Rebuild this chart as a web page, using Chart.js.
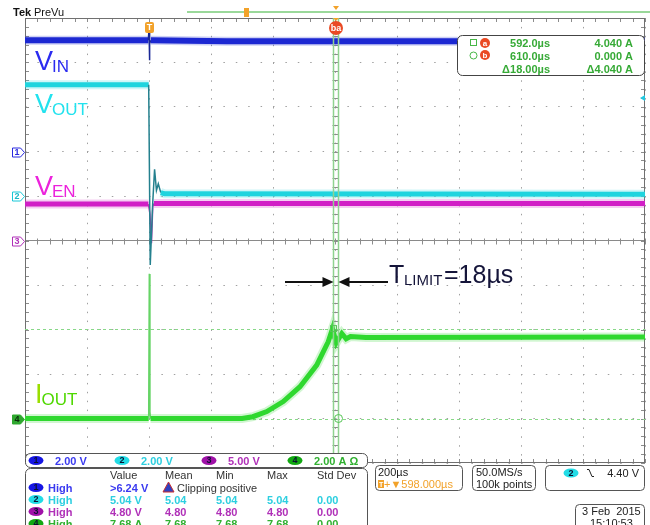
<!DOCTYPE html>
<html lang="en">
<head>
<meta charset="UTF-8">
<title>Current limit turn-on</title>
<script src="https://cdn.jsdelivr.net/npm/chart.js"></script>
<style>
  html, body { margin: 0; padding: 0; background: #fff; }
  canvas { display: block; }
</style>
</head>
<body>
<canvas id="scope" width="650" height="525"></canvas>
<script>
// horizontal: 200 us/div, trigger two divisions from the left edge
const timeMin = -400;
const timeMax = 1600;
const timePerDiv = 200;

// per channel: units per division, ground position (divisions from centre)
const channelScale = [2, 2, 5, 2];
const channelOffset = [2, 1, 0, -4];
const channelUnit = ['V', 'V', 'V', 'A'];
const channelColor = ['#1c28d2', '#1fd4de', '#d11fc6', '#2fd82f'];
const edgeColor = ['#1a2896', '#24808e', '#b23ab2', '#66d466'];

// CH1 VIN (V)
const vinTime = [-400, -2, 0, 1, 3, 6, 250, 1600];
const vinValue = [5.0, 5.0, 5.55, 4.1, 4.85, 5.0, 4.96, 4.96];

// CH2 VOUT (V)
const voutTime = [-400, -1, 4, 12, 18, 24, 30, 38, 50, 1600];
const voutValue = [5.0, 5.0, -3.1, -0.3, 1.2, 0.25, 0.55, 0.15, 0.1, 0.08];

// CH3 VEN (V)
const venTime = [-400, -2, 3, 8, 12, 16, 1600];
const venValue = [4.1, 4.1, 3.0, -0.3, 3.8, 4.15, 4.15];

// CH4 IOUT (A)
const ioutTime = [-400, -1, 1, 3, 5, 300, 335, 380, 433, 487, 541, 578, 592, 604, 622, 636, 650, 700, 1600];
const ioutValue = [0, 0, 6.5, 0.3, 0, 0, 0.08, 0.31, 0.76, 1.43, 2.40, 3.45, 4.04, 3.4, 3.82, 3.58, 3.68, 3.64, 3.66];

// cursors (time in us, level on CH4 in A)
const cursorTimes = [592.0, 610.0];
const cursorLevels = [4.040, 0.000];
const cursorNames = ['a', 'b'];

// trigger: CH2 falling edge
const triggerChannel = 1;
const triggerLevel = 4.40;
const horizontalDelay = 598.000;

// measurement table
const measureHeader = ['Value', 'Mean', 'Min', 'Max', 'Std Dev'];
const measureRows = [
  ['>6.24 V'],
  ['5.04 V', '5.04', '5.04', '5.04', '0.00'],
  ['4.80 V', '4.80', '4.80', '4.80', '0.00'],
  ['7.68 A', '7.68', '7.68', '7.68', '0.00']
];

const toDiv = (ch, v) => v / channelScale[ch] + channelOffset[ch];
const isEdge = c => Math.abs(c.p1.x - c.p0.x) < 3;

function trace(ch, times, values) {
  return {
    data: times.map((t, i) => ({ x: t, y: toDiv(ch, values[i]) })),
    borderColor: channelColor[ch],
    borderWidth: 5,
    pointRadius: 0,
    tension: 0,
    // fast edges stay thin, the flat noisy parts are a wide band
    segment: {
      borderWidth: c => isEdge(c) ? 1.5 : (ch === 0 ? 6 : 5),
      borderColor: c => isEdge(c) ? edgeColor[ch] : channelColor[ch]
    }
  };
}

// faint wider band behind each trace for the noise fringe
function fringe(ch, times, values) {
  return {
    data: times.map((t, i) => ({ x: t, y: toDiv(ch, values[i]) })),
    borderColor: channelColor[ch] + '38',
    borderWidth: 9,
    pointRadius: 0,
    tension: 0,
    order: 10,
    segment: {
      borderColor: c => isEdge(c) ? 'rgba(0,0,0,0)' : channelColor[ch] + '38'
    }
  };
}

function roundBox(ctx, x, y, w, h, r, stroke) {
  ctx.beginPath();
  ctx.roundRect(x, y, w, h, r);
  ctx.fillStyle = '#fff';
  ctx.fill();
  ctx.strokeStyle = stroke || '#555';
  ctx.lineWidth = 1;
  ctx.stroke();
}

function pill(ctx, cx, cy, w, h, fill, text, textColor) {
  ctx.beginPath();
  ctx.ellipse(cx, cy, w / 2, h / 2, 0, 0, Math.PI * 2);
  ctx.fillStyle = fill;
  ctx.fill();
  ctx.fillStyle = textColor || '#0a1030';
  ctx.font = 'bold 9px "Liberation Sans"';
  ctx.textAlign = 'center';
  ctx.textBaseline = 'middle';
  ctx.fillText(text, cx, cy + 0.5);
}

function subLabel(ctx, main, sub, x, base, color, subColor) {
  ctx.textAlign = 'left';
  ctx.textBaseline = 'alphabetic';
  ctx.font = '27px "Liberation Sans"';
  ctx.fillStyle = color;
  ctx.fillText(main, x, base);
  const w = ctx.measureText(main).width;
  ctx.font = '17px "Liberation Sans"';
  ctx.fillStyle = subColor || color;
  ctx.fillText(sub, x + w - 1, base + 2);
}

const scopePlugin = {
  id: 'scopePlugin',
  beforeDatasetsDraw(chart) {
    const { ctx, chartArea: area, scales: { x, y } } = chart;
    ctx.save();
    const cx = Math.round(x.getPixelForValue((timeMin + timeMax) / 2)) + 0.5;
    const cy = Math.round(y.getPixelForValue(0)) + 0.5;

    // minor ticks on the frame and the centre lines
    ctx.strokeStyle = '#8c8c8c';
    ctx.lineWidth = 1;
    ctx.beginPath();
    for (let k = 0; k <= 50; k++) {
      const px = Math.round(x.getPixelForValue(timeMin + k * timePerDiv / 5)) + 0.5;
      ctx.moveTo(px, area.top); ctx.lineTo(px, area.top + 4);
      ctx.moveTo(px, area.bottom); ctx.lineTo(px, area.bottom - 4);
      ctx.moveTo(px, cy - 3); ctx.lineTo(px, cy + 3);
    }
    for (let k = 0; k <= 50; k++) {
      const py = Math.round(y.getPixelForValue(-5 + k / 5)) + 0.5;
      ctx.moveTo(area.left, py); ctx.lineTo(area.left + 4, py);
      ctx.moveTo(area.right, py); ctx.lineTo(area.right - 4, py);
      ctx.moveTo(cx - 3, py); ctx.lineTo(cx + 3, py);
    }
    ctx.stroke();

    // frame
    ctx.strokeStyle = '#707070';
    ctx.strokeRect(Math.round(area.left) + 0.5, Math.round(area.top) + 0.5,
      Math.round(area.width) - 1, Math.round(area.height) - 1);

    // horizontal cursor levels on CH4
    ctx.strokeStyle = '#88d888';
    ctx.setLineDash([3, 3]);
    cursorLevels.forEach(level => {
      const py = Math.round(y.getPixelForValue(toDiv(3, level))) + 0.5;
      ctx.beginPath();
      ctx.moveTo(area.left, py);
      ctx.lineTo(area.right, py);
      ctx.stroke();
    });
    ctx.restore();
  },
  afterDatasetsDraw(chart) {
    const { ctx, chartArea: area, scales: { x, y } } = chart;
    ctx.save();
    const cursorX = cursorTimes.map(t => Math.round(x.getPixelForValue(t)) + 0.5);
    const cursorY = cursorLevels.map(l => y.getPixelForValue(toDiv(3, l)));

    // vertical cursors
    ctx.strokeStyle = '#8fd28f';
    ctx.lineWidth = 1.5;
    cursorX.forEach(px => {
      ctx.beginPath();
      ctx.moveTo(px, area.top);
      ctx.lineTo(px, area.bottom);
      ctx.stroke();
    });
    ctx.lineWidth = 1;
    ctx.strokeStyle = '#55c455';
    ctx.strokeRect(cursorX[0] - 3, cursorY[0] - 3, 6, 6);
    ctx.beginPath();
    ctx.arc(cursorX[1], cursorY[1], 4, 0, Math.PI * 2);
    ctx.stroke();

    // channel ground markers on the left edge
    const markerFill = ['#fff', '#fff', '#fff', '#2fa82f'];
    const markerText = ['#2a2ae0', '#18b8c8', '#b030b8', '#0a2a0a'];
    const markerEdge = ['#2a2ae0', '#18c8d8', '#b030b8', '#2fa82f'];
    channelOffset.forEach((off, i) => {
      const py = Math.round(y.getPixelForValue(off)) + 0.5;
      ctx.beginPath();
      ctx.moveTo(12.5, py - 4.5);
      ctx.lineTo(20.5, py - 4.5);
      ctx.lineTo(24.5, py);
      ctx.lineTo(20.5, py + 4.5);
      ctx.lineTo(12.5, py + 4.5);
      ctx.closePath();
      ctx.fillStyle = markerFill[i];
      ctx.fill();
      ctx.strokeStyle = markerEdge[i];
      ctx.stroke();
      ctx.fillStyle = markerText[i];
      ctx.font = 'bold 9px "Liberation Sans"';
      ctx.textAlign = 'center';
      ctx.textBaseline = 'middle';
      ctx.fillText(String(i + 1), 17, py + 0.5);
    });

    // trigger level arrow on the right edge
    const trigY = y.getPixelForValue(toDiv(triggerChannel, triggerLevel));
    ctx.beginPath();
    ctx.moveTo(area.right - 5, trigY);
    ctx.lineTo(area.right, trigY - 3);
    ctx.lineTo(area.right, trigY + 3);
    ctx.closePath();
    ctx.fillStyle = '#22c8e0';
    ctx.fill();

    // trigger position marker and cursor badge
    const trigX = Math.round(x.getPixelForValue(0));
    ctx.beginPath();
    ctx.roundRect(trigX - 4, 22, 9, 11, 2);
    ctx.fillStyle = '#f2a22a';
    ctx.fill();
    ctx.fillStyle = '#fff';
    ctx.font = 'bold 9px "Liberation Sans"';
    ctx.textAlign = 'center';
    ctx.textBaseline = 'middle';
    ctx.fillText('T', trigX + 0.5, 28);

    const badgeX = (cursorX[0] + cursorX[1]) / 2;
    ctx.beginPath();
    ctx.arc(badgeX, 28, 7, 0, Math.PI * 2);
    ctx.fillStyle = '#ea4a24';
    ctx.fill();
    ctx.fillStyle = '#fff';
    ctx.font = 'bold 9px "Liberation Sans"';
    ctx.fillText(cursorNames[1] + cursorNames[0], badgeX, 28.5);
    ctx.beginPath();
    ctx.moveTo(badgeX - 3, 18);
    ctx.lineTo(badgeX + 3, 18);
    ctx.lineTo(badgeX, 21);
    ctx.closePath();
    ctx.fillStyle = '#f2a22a';
    ctx.fill();

    // header strip
    ctx.textAlign = 'left';
    ctx.textBaseline = 'alphabetic';
    ctx.fillStyle = '#111';
    ctx.font = 'bold 11px "Liberation Sans"';
    ctx.fillText('Tek', 13, 16);
    ctx.font = '11px "Liberation Sans"';
    ctx.fillText('PreVu', 34, 16);
    ctx.strokeStyle = '#9ad89a';
    ctx.lineWidth = 2;
    ctx.beginPath();
    ctx.moveTo(187, 12);
    ctx.lineTo(650, 12);
    ctx.stroke();
    ctx.fillStyle = '#f2a22a';
    ctx.fillRect(244, 8, 5, 9);
    ctx.beginPath();
    ctx.moveTo(badgeX - 3, 6);
    ctx.lineTo(badgeX + 3, 6);
    ctx.lineTo(badgeX, 10);
    ctx.closePath();
    ctx.fill();

    // trace names
    subLabel(ctx, 'V', 'IN', 35, 70, '#2b2bf0');
    subLabel(ctx, 'V', 'OUT', 35, 113, '#22e2ee');
    subLabel(ctx, 'V', 'EN', 35, 195, '#ec22dc');
    subLabel(ctx, 'I', 'OUT', 35, 403, '#9ade00', '#4fd800');

    // T_LIMIT annotation between the cursors
    const arrowY = 282;
    ctx.strokeStyle = '#111';
    ctx.fillStyle = '#111';
    ctx.lineWidth = 2;
    ctx.beginPath();
    ctx.moveTo(285, arrowY);
    ctx.lineTo(cursorX[0] - 10, arrowY);
    ctx.moveTo(cursorX[1] + 10, arrowY);
    ctx.lineTo(388, arrowY);
    ctx.stroke();
    ctx.beginPath();
    ctx.moveTo(cursorX[0], arrowY);
    ctx.lineTo(cursorX[0] - 11, arrowY - 5);
    ctx.lineTo(cursorX[0] - 11, arrowY + 5);
    ctx.closePath();
    ctx.moveTo(cursorX[1], arrowY);
    ctx.lineTo(cursorX[1] + 11, arrowY - 5);
    ctx.lineTo(cursorX[1] + 11, arrowY + 5);
    ctx.closePath();
    ctx.fill();
    const dt = cursorTimes[1] - cursorTimes[0];
    ctx.fillStyle = '#15153a';
    ctx.font = '25px "Liberation Sans"';
    ctx.fillText('T', 389, 283);
    ctx.font = '15px "Liberation Sans"';
    ctx.fillText('LIMIT', 404, 285);
    ctx.font = '25px "Liberation Sans"';
    ctx.fillText('=' + Math.round(dt) + '\u00b5s', 444, 283);

    // cursor readout
    roundBox(ctx, 457.5, 35.5, 187, 40, 5, '#444');
    const green = '#36aa36';
    ctx.lineWidth = 1;
    ctx.strokeStyle = '#48b848';
    ctx.strokeRect(470.5, 39.5, 6, 6);
    ctx.beginPath();
    ctx.arc(473.5, 55.5, 3.5, 0, Math.PI * 2);
    ctx.stroke();
    [43, 55].forEach((cy, i) => {
      ctx.beginPath();
      ctx.arc(485, cy, 5, 0, Math.PI * 2);
      ctx.fillStyle = '#ea4a24';
      ctx.fill();
      ctx.fillStyle = '#fff';
      ctx.font = 'bold 8px "Liberation Sans"';
      ctx.textAlign = 'center';
      ctx.textBaseline = 'middle';
      ctx.fillText(cursorNames[i], 485, cy + 0.5);
    });
    ctx.fillStyle = green;
    ctx.font = 'bold 11px "Liberation Sans"';
    ctx.textAlign = 'right';
    ctx.textBaseline = 'alphabetic';
    const readRows = [
      [cursorTimes[0].toFixed(1) + '\u00b5s', cursorLevels[0].toFixed(3) + ' A'],
      [cursorTimes[1].toFixed(1) + '\u00b5s', cursorLevels[1].toFixed(3) + ' A'],
      ['\u0394' + dt.toFixed(2) + '\u00b5s', '\u0394' + Math.abs(cursorLevels[0] - cursorLevels[1]).toFixed(3) + ' A']
    ];
    readRows.forEach((r, i) => {
      ctx.fillText(r[0], 550, 47 + i * 13);
      ctx.fillText(r[1], 633, 47 + i * 13);
    });

    // channel settings row
    roundBox(ctx, 25.5, 453.5, 342, 14, 5, '#555');
    const pillFill = ['#1616e4', '#22dce6', '#a012a8', '#12a812'];
    const textCol = ['#3a3af0', '#2ccfe0', '#b030b8', '#30b030'];
    const pillX = [36, 122, 209, 295];
    channelScale.forEach((s, i) => {
      pill(ctx, pillX[i], 460.5, 15, 9, pillFill[i], String(i + 1));
      ctx.fillStyle = textCol[i];
      ctx.font = 'bold 11px "Liberation Sans"';
      ctx.textAlign = 'left';
      ctx.textBaseline = 'alphabetic';
      ctx.fillText(s.toFixed(2) + ' ' + channelUnit[i] + (i === 3 ? ' \u03a9' : ''), pillX[i] + 19, 464.5);
    });

    // measurement table
    roundBox(ctx, 25.5, 468.5, 342, 70, 5, '#555');
    const colX = [110, 165, 216, 267, 317];
    ctx.fillStyle = '#333';
    ctx.font = '11px "Liberation Sans"';
    ctx.textAlign = 'left';
    measureHeader.forEach((h, i) => ctx.fillText(h, colX[i], 479));
    measureRows.forEach((row, r) => {
      const base = 491.5 + r * 12;
      pill(ctx, 36, base - 4, 15, 9, pillFill[r], String(r + 1));
      ctx.textAlign = 'left';
      ctx.textBaseline = 'alphabetic';
      ctx.fillStyle = textCol[r];
      ctx.font = 'bold 11px "Liberation Sans"';
      ctx.fillText('High', 48, base);
      row.forEach((v, i) => ctx.fillText(v, colX[i], base));
    });
    // clipping warning in the first row
    ctx.beginPath();
    ctx.moveTo(168.5, 482);
    ctx.lineTo(174, 492);
    ctx.lineTo(163, 492);
    ctx.closePath();
    ctx.fillStyle = '#3040c0';
    ctx.fill();
    ctx.strokeStyle = '#c83030';
    ctx.stroke();
    ctx.fillStyle = '#333';
    ctx.font = '11px "Liberation Sans"';
    ctx.fillText('Clipping positive', 177, 491.5);

    // horizontal, acquisition and trigger boxes
    roundBox(ctx, 375.5, 465.5, 87, 25, 4, '#555');
    roundBox(ctx, 472.5, 465.5, 63, 25, 4, '#555');
    roundBox(ctx, 545.5, 465.5, 99, 25, 4, '#555');
    ctx.fillStyle = '#222';
    ctx.font = '11px "Liberation Sans"';
    ctx.fillText(timePerDiv + '\u00b5s', 378, 476);
    ctx.fillStyle = '#f2a22a';
    ctx.fillRect(378, 480, 6, 8);
    ctx.fillStyle = '#fff';
    ctx.font = 'bold 7px "Liberation Sans"';
    ctx.fillText('T', 379, 487);
    ctx.fillStyle = '#f2a22a';
    ctx.font = '11px "Liberation Sans"';
    ctx.fillText('+\u25bc' + horizontalDelay.toFixed(3) + '\u00b5s', 384, 488);
    ctx.fillStyle = '#222';
    ctx.fillText('50.0MS/s', 476, 476);
    ctx.fillText('100k points', 476, 488);
    pill(ctx, 571, 473, 15, 9, '#22dce6', String(triggerChannel + 1));
    ctx.strokeStyle = '#222';
    ctx.lineWidth = 1;
    ctx.beginPath();
    ctx.moveTo(587, 469.5);
    ctx.lineTo(589, 469.5);
    ctx.lineTo(592, 476.5);
    ctx.lineTo(594, 476.5);
    ctx.stroke();
    ctx.fillStyle = '#222';
    ctx.font = '11px "Liberation Sans"';
    ctx.textAlign = 'right';
    ctx.textBaseline = 'alphabetic';
    ctx.fillText(triggerLevel.toFixed(2) + ' V', 639, 477);

    // date box
    roundBox(ctx, 575.5, 504.5, 69, 30, 4, '#555');
    ctx.fillStyle = '#222';
    ctx.textAlign = 'left';
    ctx.fillText('3 Feb  2015', 582, 515);
    ctx.fillText('15:10:53', 590, 527);
    ctx.restore();
  }
};

const chart = new Chart(document.getElementById('scope').getContext('2d'), {
  type: 'line',
  data: {
    datasets: [
      trace(0, vinTime, vinValue),
      trace(1, voutTime, voutValue),
      trace(2, venTime, venValue),
      trace(3, ioutTime, ioutValue),
      fringe(0, vinTime, vinValue),
      fringe(1, voutTime, voutValue),
      fringe(2, venTime, venValue),
      fringe(3, ioutTime, ioutValue)
    ]
  },
  options: {
    responsive: false,
    animation: false,
    devicePixelRatio: 1,
    layout: { padding: { left: 25, right: 5, top: 18, bottom: 62 } },
    plugins: { legend: { display: false }, tooltip: { enabled: false } },
    scales: {
      x: {
        type: 'linear',
        min: timeMin,
        max: timeMax,
        ticks: { stepSize: timePerDiv, display: false },
        grid: { color: '#a0a0a0', drawTicks: false },
        border: { display: false, dash: [1.5, 7.4] }
      },
      y: {
        min: -5,
        max: 5,
        ticks: { stepSize: 1, display: false },
        grid: { color: c => c.tick && c.tick.value === 0 ? '#8a8a8a' : '#a0a0a0', drawTicks: false },
        border: { display: false, dash: c => c.tick && c.tick.value === 0 ? [] : [1.5, 10.9] }
      }
    }
  },
  plugins: [scopePlugin]
});
</script>
</body>
</html>
